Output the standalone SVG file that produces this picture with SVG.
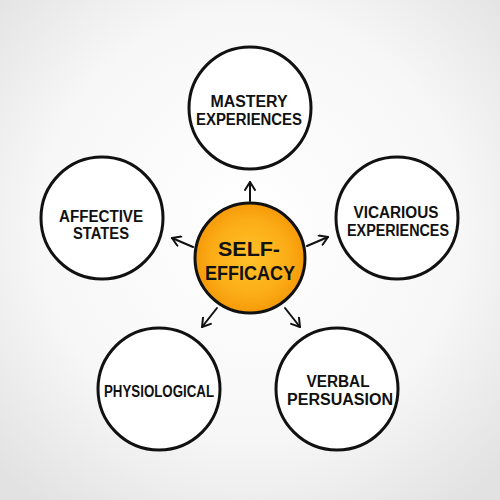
<svg xmlns="http://www.w3.org/2000/svg" width="500" height="500" viewBox="0 0 500 500">
<defs>
<radialGradient id="bg" cx="50%" cy="45%" r="70%">
<stop offset="0" stop-color="#ffffff"/>
<stop offset="0.6" stop-color="#f7f7f7"/>
<stop offset="1" stop-color="#e2e2e2"/>
</radialGradient>
<radialGradient id="orange" cx="50%" cy="50%" r="50%">
<stop offset="0" stop-color="#ffc22a"/>
<stop offset="0.7" stop-color="#fbac16"/>
<stop offset="1" stop-color="#f59a08"/>
</radialGradient>
<marker id="arr" viewBox="0 0 12 12" refX="10" refY="6" markerWidth="12" markerHeight="12" markerUnits="userSpaceOnUse" orient="auto">
<polyline points="2,1 10,6 2,11" fill="none" stroke="#111" stroke-width="2" stroke-linecap="round" stroke-linejoin="round"/>
</marker>
<style>
.ring{fill:#ffffff;stroke:#111;stroke-width:3}
.core{fill:url(#orange);stroke:#111;stroke-width:3}
.t{font-family:"Liberation Sans",Arial,sans-serif;font-weight:bold;font-size:16px;fill:#111;text-anchor:middle}
.tc{font-family:"Liberation Sans",Arial,sans-serif;font-weight:bold;font-size:20px;fill:#111;text-anchor:middle}
.c{stroke:#111;stroke-width:2;fill:none;stroke-linecap:round;marker-end:url(#arr)}
</style>
</defs>
<rect width="500" height="500" fill="url(#bg)"/>
<g id="connectors">
<line class="c" x1="250" y1="201" x2="250" y2="182"/>
<line class="c" x1="193" y1="247" x2="172" y2="238"/>
<line class="c" x1="307" y1="246" x2="328" y2="237"/>
<line class="c" x1="217" y1="308" x2="202" y2="327"/>
<line class="c" x1="285" y1="308" x2="300" y2="327"/>
</g>
<g id="mastery">
<circle class="ring" cx="250" cy="108" r="61"/>
<text class="t" x="249" y="107" textLength="77" lengthAdjust="spacingAndGlyphs">MASTERY</text>
<text class="t" x="249" y="125" textLength="106" lengthAdjust="spacingAndGlyphs">EXPERIENCES</text>
</g>
<g id="affective">
<circle class="ring" cx="102" cy="218" r="61"/>
<text class="t" x="101" y="222" textLength="84" lengthAdjust="spacingAndGlyphs">AFFECTIVE</text>
<text class="t" x="101" y="239" textLength="56" lengthAdjust="spacingAndGlyphs">STATES</text>
</g>
<g id="vicarious">
<circle class="ring" cx="397" cy="218" r="61"/>
<text class="t" x="396" y="218" textLength="85" lengthAdjust="spacingAndGlyphs">VICARIOUS</text>
<text class="t" x="398" y="236" textLength="102" lengthAdjust="spacingAndGlyphs">EXPERIENCES</text>
</g>
<g id="physiological">
<circle class="ring" cx="159" cy="389" r="61"/>
<text class="t" x="159" y="397" textLength="110" lengthAdjust="spacingAndGlyphs">PHYSIOLOGICAL</text>
</g>
<g id="verbal">
<circle class="ring" cx="337" cy="389" r="61"/>
<text class="t" x="338" y="387" textLength="63" lengthAdjust="spacingAndGlyphs">VERBAL</text>
<text class="t" x="340" y="405" textLength="106" lengthAdjust="spacingAndGlyphs">PERSUASION</text>
</g>
<g id="self-efficacy">
<circle class="core" cx="250" cy="258" r="55"/>
<text class="tc" x="249" y="256" textLength="62" lengthAdjust="spacingAndGlyphs">SELF-</text>
<text class="tc" x="250" y="280" textLength="90" lengthAdjust="spacingAndGlyphs">EFFICACY</text>
</g>
</svg>
